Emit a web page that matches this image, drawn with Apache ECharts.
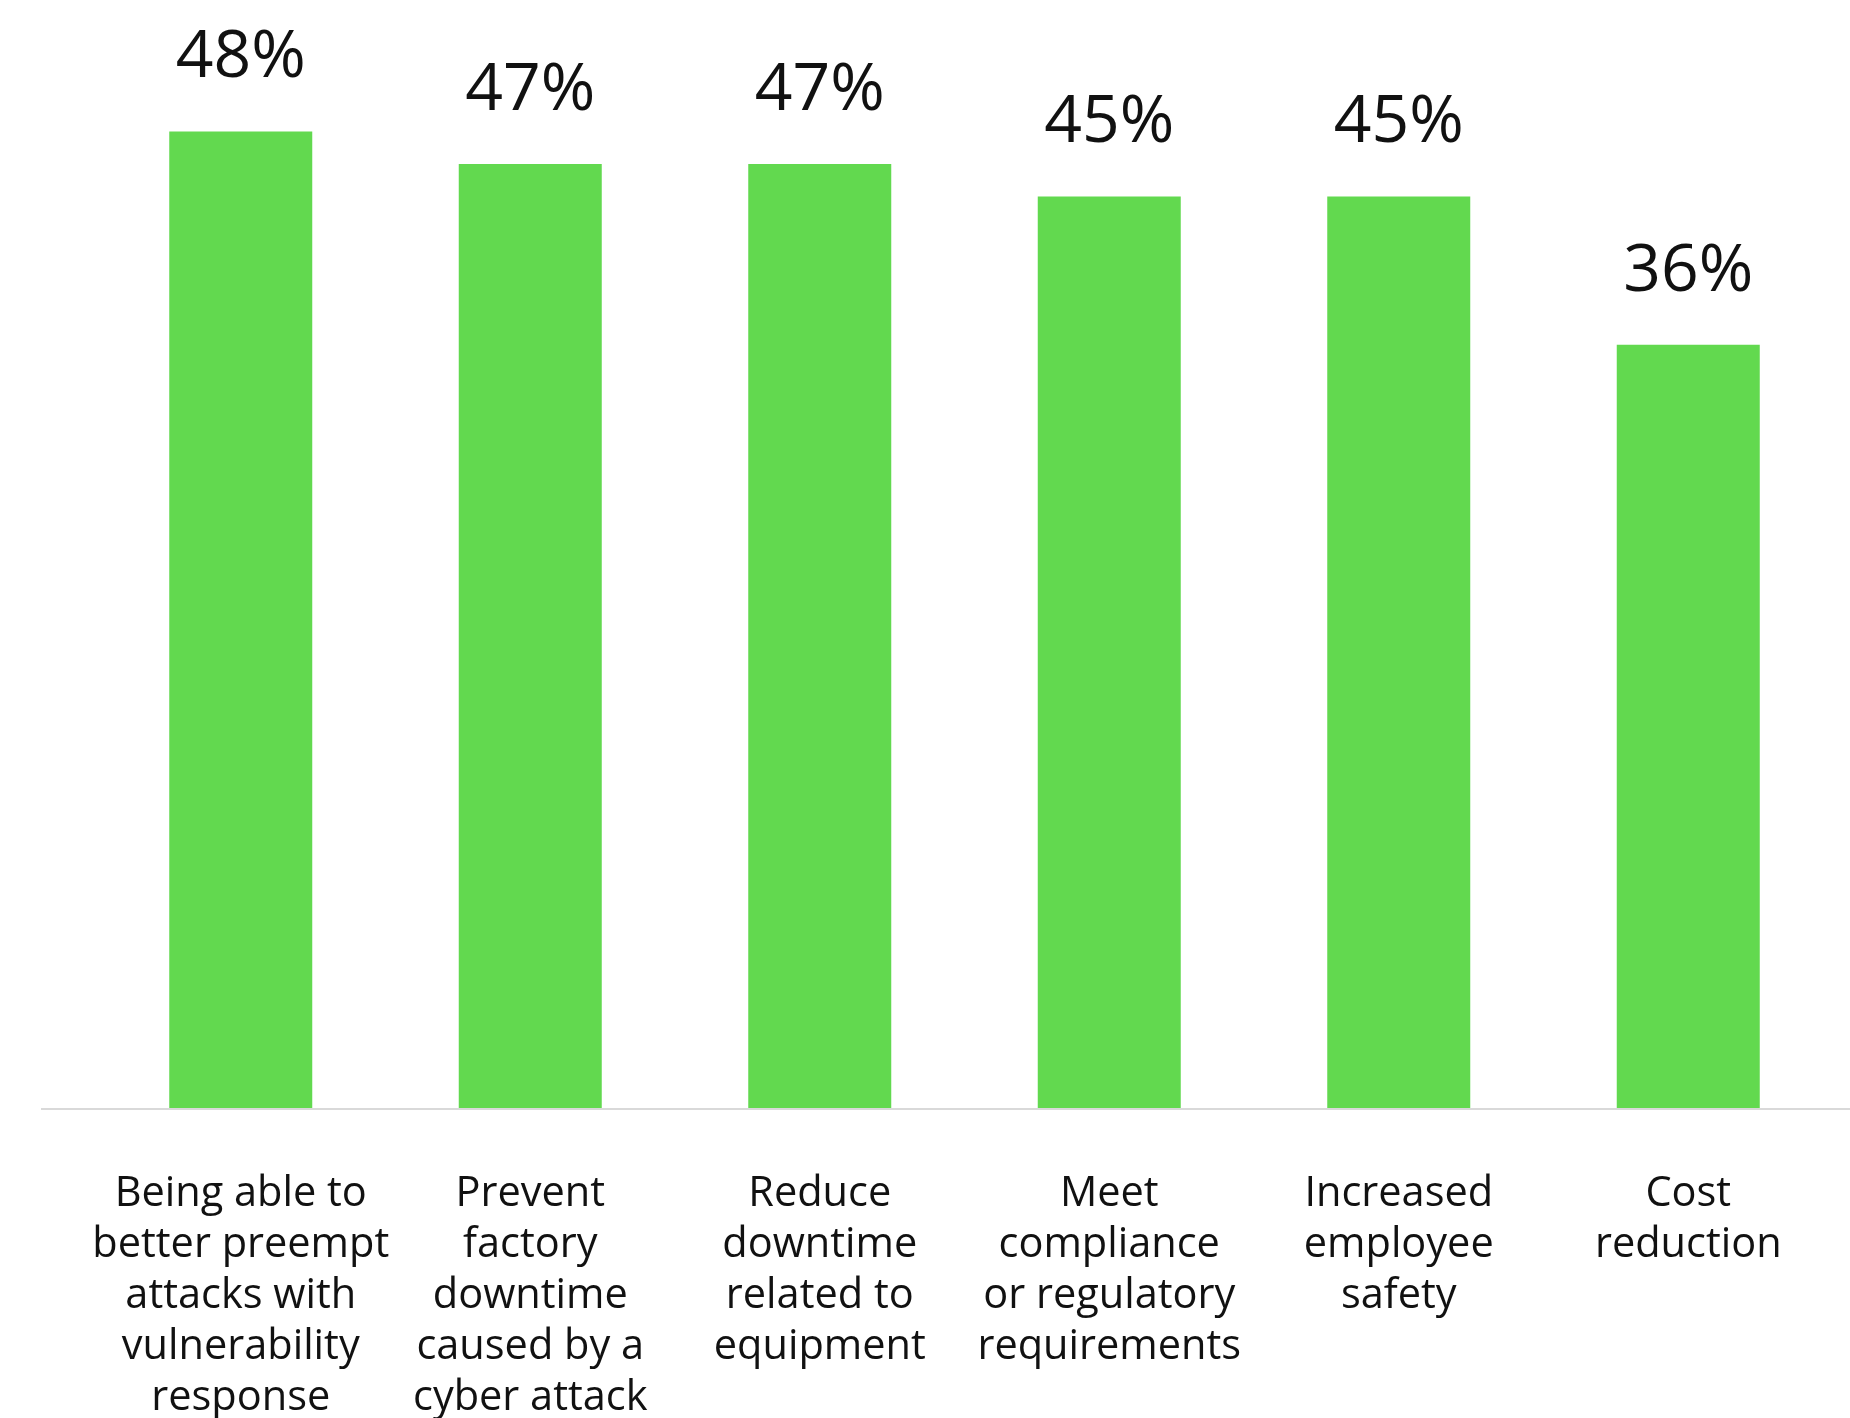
<!DOCTYPE html>
<html>
<head>
<meta charset="utf-8">
<script src="https://cdn.jsdelivr.net/npm/echarts@6/dist/echarts.min.js"></script>
<style>
  html, body { margin: 0; padding: 0; background: #fff; }
  #chart { width: 1850px; height: 1418px; }
</style>
</head>
<body>
<div id="chart"></div>
<script>
const categories = [
  'Being able to\nbetter preempt\nattacks with\nvulnerability\nresponse',
  'Prevent\nfactory\ndowntime\ncaused by a\ncyber attack',
  'Reduce\ndowntime\nrelated to\nequipment',
  'Meet\ncompliance\nor regulatory\nrequirements',
  'Increased\nemployee\nsafety',
  'Cost\nreduction',
]
// bar heights as drawn in the picture
const values = [48.1, 46.5, 46.5, 44.9, 44.9, 37.6]
// the percentages printed above the bars
const valueLabels = ['48%', '47%', '47%', '45%', '45%', '36%']

const font = '"Open Sans", "Noto Sans", sans-serif'
const chart = echarts.init(document.getElementById('chart'))

chart.setOption({
  animation: false,
  grid: { left: 96, right: 17, top: 93, bottom: 310, outerBoundsMode: 'none', containLabel: false },
  xAxis: {
    type: 'category',
    data: categories,
    axisLine: { show: false },
    axisTick: { show: false },
    axisLabel: {
      margin: 61,
      interval: 0,
      color: '#111',
      fontFamily: font,
      fontSize: 41.5,
      lineHeight: 51,
      align: 'center',
    },
  },
  yAxis: { type: 'value', min: 0, max: 50, show: false, splitLine: { show: false } },
  series: [{
    type: 'bar',
    data: values,
    barWidth: 143,
    itemStyle: { color: '#62D94F' },
    label: {
      show: true,
      position: 'top',
      distance: 40,
      color: '#111',
      fontFamily: font,
      fontSize: 66,
      formatter: p => valueLabels[p.dataIndex],
    },
  }],
})

// baseline rule runs wider than the plot area
const y0 = chart.convertToPixel({ yAxisIndex: 0 }, 0)
chart.setOption({
  graphic: [{
    type: 'line',
    shape: { x1: 41, y1: y0 + 1, x2: 1850, y2: y0 + 1 },
    style: { stroke: '#d9d9d9', lineWidth: 2 },
    z: 0,
  }],
})
</script>
</body>
</html>
